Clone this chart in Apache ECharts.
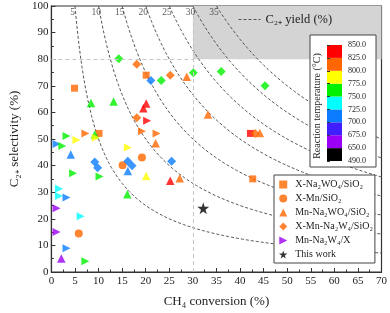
<!DOCTYPE html>
<html><head><meta charset="utf-8">
<script src="https://cdn.jsdelivr.net/npm/echarts@6/dist/echarts.min.js"></script>
<style>html,body{margin:0;padding:0;background:#fff}#c{width:390px;height:313px}</style>
</head><body><div id="c"></div>
<script>
// ---------- data: [CH4 conversion %, C2+ selectivity %, reaction temperature °C] ----------
const seriesNames = ['X-Na₂WO₄/SiO₂', 'X-Mn/SiO₂', 'Mn-Na₂WO₄/SiO₂', 'X-Mn-Na₂W₄/SiO₂', 'Mn-Na₂W₄/X', 'This work'];
const xNaWSiO2 = [[20.1,74.0,810],[4.9,69.1,810],[10.1,52.1,810],[42.2,52.1,840],[42.7,35.0,810]];
const xMnSiO2 = [[15.1,40.1,810],[19.2,43.0,810],[5.8,14.5,810]];
const mnNaWSiO2 = [[28.7,73.4,810],[8.4,63.5,760],[13.2,64.1,760],[19.5,61.6,840],[20.1,63.3,840],
  [33.2,59.2,810],[22.1,48.4,810],[9.2,51.7,760],[4.1,44.2,710],[16.2,38.0,710],[20.1,36.1,790],
  [25.2,34.3,840],[27.2,35.2,810],[16.1,29.2,760],[2.1,5.1,660],[44.2,52.3,810]];
const xMnNaWSiO2 = [[14.3,80.2,760],[18.1,78.1,810],[21.1,72.0,710],[23.3,72.0,760],[25.2,74.0,810],
  [30.1,74.9,760],[18.1,58.0,810],[9.2,41.4,710],[9.8,39.2,710],[16.2,41.6,710],[17.1,39.9,710],
  [25.5,41.6,710],[36.0,75.4,760],[45.3,70.0,760],[43.2,52.1,810]];
const mnNaWX = [[20.3,56.9,840],[19.2,52.9,810],[22.3,52.1,810],[7.2,52.1,810],[9.4,50.5,790],
  [3.2,51.1,760],[5.3,49.6,790],[1.1,48.1,710],[2.3,47.4,760],[16.2,46.8,790],[4.6,37.1,760],
  [10.2,35.9,760],[1.6,31.3,740],[1.6,28.6,740],[3.2,28.0,710],[1.1,24.0,660],[6.2,21.0,740],
  [1.1,15.0,660],[3.2,8.9,710],[7.2,4.0,760]];
const thisWork = [[32.2,24.0]];
const yieldLevels = [5,10,15,20,25,30,35];
const targetConversion = 30, targetSelectivity = 80;
const tempTicks = [490,650,675,700,725,750,775,800,825,850];
const tempColors = ['#000000','#9a00f5','#3f1fff','#0a7cff','#00ffff','#00f000','#ffff00','#ff6600','#ff0000'];

const FONT = '"Liberation Serif","Times New Roman",serif';
const chart = echarts.init(document.getElementById('c'), null, {renderer:'canvas'});

function curve(Y){ const pts=[]; for(let x=Y;x<=70.0001;x+=0.25){pts.push([x,100*Y/x]);} return pts; }

const yieldName = 'C₂₊ yield (%)';
const series = [];
yieldLevels.forEach((Y,i)=>{
  const s = {type:'line', name:yieldName, data:curve(Y), showSymbol:false, symbol:'none', silent:true,
    itemStyle:{color:'#555'}, lineStyle:{type:[3,2], color:'#555', width:1}, z:2};
  if(i===0){
    s.markArea = {silent:true, itemStyle:{color:'#d4d4d4'}, data:[[{coord:[targetConversion,targetSelectivity]},{coord:[70,100]}]]};
    s.markLine = {silent:true, symbol:'none', label:{show:false}, lineStyle:{type:[4,3], color:'#c6c6c6', width:1},
      data:[[{coord:[targetConversion,0]},{coord:[targetConversion,100]}],[{coord:[0,targetSelectivity]},{coord:[targetConversion,targetSelectivity]}]]};
  }
  series.push(s);
});
series.push({type:'scatter', silent:true, symbolSize:0, data:yieldLevels.map(Y=>[Y-0.5,97.6,Y]),
  label:{show:true, position:'inside', formatter:p=>String(p.value[2]), fontFamily:FONT, fontSize:9.5, color:'#333'}, z:2});
const firstScatter = series.length;
const SQUARE='path://M0,0H10V10H0Z', TRI='path://M5,0L10,10L0,10Z', DIAM='path://M5,0L10,5L5,10L0,5Z',
      RTRI='path://M0,0L10,5L0,10Z', STAR='path://M50,0L61,35L98,35L68,57L79,91L50,70L21,91L32,57L2,35L39,35Z';
const defs = [
  {data:xNaWSiO2, symbol:'rect', size:7, icon:SQUARE},
  {data:xMnSiO2, symbol:'circle', size:8, icon:'circle'},
  {data:mnNaWSiO2, symbol:'triangle', size:8.5, icon:TRI},
  {data:xMnNaWSiO2, symbol:'diamond', size:9, icon:DIAM},
  {data:mnNaWX, symbol:RTRI, size:8, icon:RTRI},
];
defs.forEach((d,i)=>series.push({type:'scatter', name:seriesNames[i], data:d.data, symbol:d.symbol, symbolSize:d.size, z:3,
  itemStyle:{color:'#ff6600'}}));
series.push({type:'scatter', name:seriesNames[5], data:thisWork, symbol:STAR, symbolSize:12, itemStyle:{color:'#000'}, z:3});
const scatterIdx = [0,1,2,3,4].map(i=>firstScatter+i);
series.push({type:'custom', xAxisIndex:1, yAxisIndex:1, silent:true, z:6, data:tempColors.map((c,i)=>[0,i]),
  renderItem:(params,api)=>{const i=api.value(1); const p0=api.coord([0,i]); const p1=api.coord([1,i+1]);
    return {type:'rect', shape:{x:p0[0], y:p1[1], width:p1[0]-p0[0], height:p0[1]-p1[1]}, style:{fill:tempColors[i]}};}});

const pieces = tempColors.map((c,i)=>({gte:tempTicks[i], lt:tempTicks[i+1]+(i===8?1:0), color:c}));
const legendColors = ['#ff6600','#ff6600','#ff6600','#ff6600','#9a00f5','#000'];
const legendIcons = defs.map(d=>d.icon).concat([STAR]);

chart.setOption({
  animation:false,
  textStyle:{fontFamily:FONT},
  grid:[{left:33, right:8, top:6, bottom:33, show:true, borderColor:'#333', borderWidth:1.2, backgroundColor:'transparent'},
        {left:327, top:45, width:15, height:116}],
  xAxis:[{type:'value', min:0, max:70, interval:5, name:'CH₄ conversion (%)', nameLocation:'middle', nameGap:23,
      nameTextStyle:{fontFamily:FONT, fontSize:13, color:'#222'},
      axisLine:{lineStyle:{color:'#333', width:1.2}}, axisTick:{inside:true, length:4, lineStyle:{color:'#333'}},
      minorTick:{show:true, splitNumber:2, length:2.5, lineStyle:{color:'#333'}},
      axisLabel:{fontFamily:FONT, fontSize:11, color:'#222', margin:4}, splitLine:{show:false}},
    {gridIndex:1, type:'value', min:0, max:1, show:false}],
  yAxis:[{type:'value', min:0, max:100, interval:10, name:'C₂₊ selectivity (%)', nameLocation:'middle', nameGap:22,
      nameTextStyle:{fontFamily:FONT, fontSize:13, color:'#222'},
      axisLine:{lineStyle:{color:'#333', width:1.2}}, axisTick:{inside:true, length:4, lineStyle:{color:'#333'}},
      minorTick:{show:true, splitNumber:2, length:2.5, lineStyle:{color:'#333'}},
      axisLabel:{fontFamily:FONT, fontSize:11, color:'#222', margin:3}, splitLine:{show:false}},
    {gridIndex:1, type:'value', min:0, max:9, interval:1, position:'right', z:7,
      axisLine:{show:false}, axisTick:{show:true, length:3, lineStyle:{color:'#333'}},
      axisLabel:{fontFamily:FONT, fontSize:8, color:'#222', margin:6, formatter:v=>tempTicks[v].toFixed(1)}, splitLine:{show:false}}],
  visualMap:{type:'piecewise', show:false, dimension:2, seriesIndex:scatterIdx, pieces:pieces},
  legend:[{orient:'vertical', left:274, top:175,
      data:seriesNames.map((n,i)=>({name:n, icon:legendIcons[i], itemStyle:{color:legendColors[i]}})),
      backgroundColor:'#fff', borderColor:'#444', borderWidth:1, padding:[4,2,3,5], itemGap:3, itemWidth:14, itemHeight:8,
      textStyle:{fontFamily:FONT, fontSize:10, color:'#222', lineHeight:11}, selectedMode:false},
    {left:238, top:13, data:[{name:yieldName, itemStyle:{opacity:0}, lineStyle:{color:'#555', type:[3,2], width:1}}],
      itemWidth:22, itemHeight:12, padding:0, selectedMode:false,
      textStyle:{fontFamily:FONT, fontSize:12.5, color:'#222'}}],
  graphic:[{type:'rect', z:5, shape:{x:310, y:35, width:66, height:132}, style:{fill:'#fff', stroke:'#444', lineWidth:1}},
    {type:'text', z:7, x:317, y:106, rotation:Math.PI/2, style:{text:'Reaction temperature (°C)', font:'10px '+FONT, fill:'#222', align:'center', verticalAlign:'middle'}}],
  series:series
});
</script></body></html>
